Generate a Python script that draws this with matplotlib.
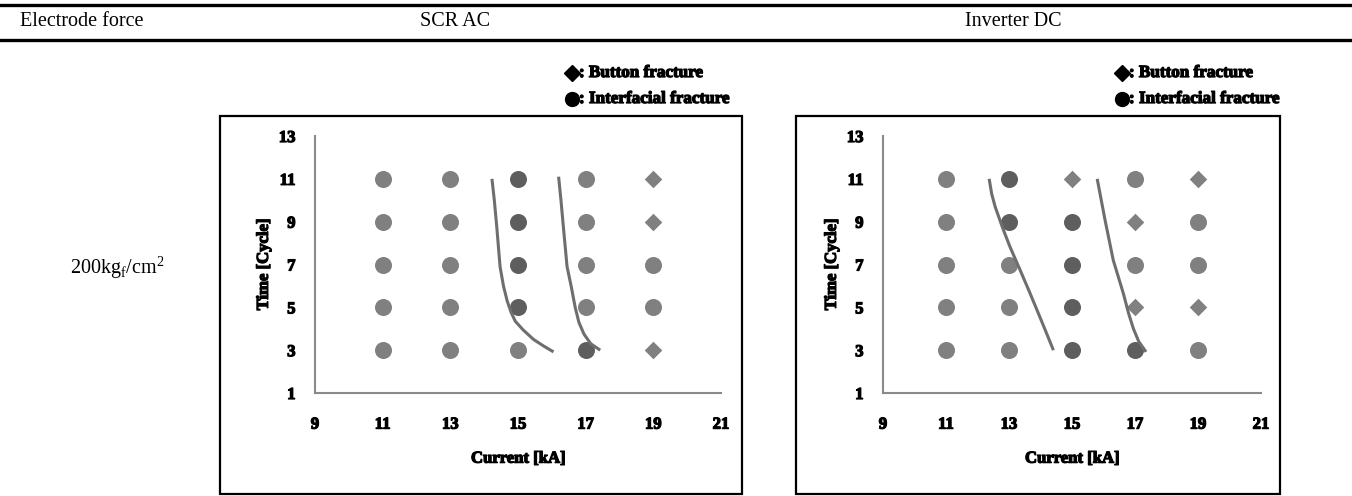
import matplotlib
matplotlib.use("Agg")
import matplotlib.pyplot as plt
from matplotlib.lines import Line2D
from matplotlib.patches import Rectangle
import matplotlib.patheffects as pe

plt.rcParams['mathtext.fontset'] = 'custom'
plt.rcParams['mathtext.rm'] = 'Liberation Serif'

# grid of test points
xs = [11, 13, 15, 17, 19]
ys = [3, 5, 7, 9, 11]

# fracture type per point, rows = time (3..11), cols = current (11..19)
# L = interfacial (light), D = interfacial (dark), B = button (diamond)
scr_types = [
    ['L', 'L', 'L', 'D', 'B'],   # 3
    ['L', 'L', 'D', 'L', 'L'],   # 5
    ['L', 'L', 'D', 'L', 'L'],   # 7
    ['L', 'L', 'D', 'L', 'B'],   # 9
    ['L', 'L', 'D', 'L', 'B'],   # 11
]
inv_types = [
    ['L', 'L', 'D', 'D', 'L'],   # 3
    ['L', 'L', 'D', 'B', 'B'],   # 5
    ['L', 'L', 'D', 'L', 'L'],   # 7
    ['L', 'D', 'D', 'B', 'L'],   # 9
    ['L', 'D', 'B', 'L', 'B'],   # 11
]

# hand drawn boundary curves
scr_c1_x = [14.23, 14.3, 14.37, 14.47, 14.57, 14.68, 14.8, 14.92, 15.15, 15.46, 15.75, 16.05]
scr_c1_y = [11.0, 10.0, 8.8, 6.9, 6.0, 5.3, 4.75, 4.35, 3.95, 3.5, 3.2, 2.92]
scr_c2_x = [16.2, 16.27, 16.35, 16.45, 16.57, 16.69, 16.8, 16.95, 17.15, 17.43]
scr_c2_y = [11.1, 10.0, 8.6, 6.9, 6.0, 5.0, 4.3, 3.75, 3.3, 3.0]
inv_c1_x = [12.37, 12.45, 12.56, 12.8, 13.03, 13.35, 13.67, 14.05, 14.41]
inv_c1_y = [11.0, 10.3, 9.7, 8.7, 7.83, 6.75, 5.65, 4.3, 3.0]
inv_c2_x = [15.8, 16.05, 16.31, 16.63, 16.8, 16.95, 17.12, 17.35]
inv_c2_y = [11.0, 9.07, 7.2, 5.65, 4.7, 4.0, 3.4, 2.92]

W, H = 1352, 496
fig = plt.figure(figsize=(W / 100, H / 100), dpi=100)

serif = ['Liberation Serif', 'DejaVu Serif']
light = '#808080'
dark = '#5e5e5e'
linec = '#6e6e6e'
heavy = [pe.withStroke(linewidth=0.9, foreground='black')]


def fx(px):
    return px / W


def fy(py):
    return 1 - py / H


# table rules and header
fig.add_artist(Line2D([0, 1], [fy(5), fy(5)], color='black', lw=2.4))
fig.add_artist(Line2D([0, 1], [fy(40), fy(40)], color='black', lw=2.4))
fig.text(fx(20), fy(22), 'Electrode force', family=serif, fontsize=14.5, va='center')
fig.text(fx(455), fy(22), 'SCR AC', family=serif, fontsize=14.5, va='center', ha='center')
fig.text(fx(1013), fy(22), 'Inverter DC', family=serif, fontsize=14.5, va='center', ha='center')
fig.text(fx(70), fy(268), r'200kg$_\mathrm{f}$/cm$^2$', family=serif, fontsize=14.5, va='center')


def panel(ax_px, box_px, leg_x, types, curves):
    x0, y0, x1, y1 = box_px
    fig.add_artist(Rectangle((fx(x0), fy(y1)), fx(x1 - x0), (y1 - y0) / H,
                             fill=False, ec='black', lw=1.6))
    # legend symbols and text
    fig.add_artist(Line2D([fx(leg_x + 7)], [fy(73)], marker='D', ms=8, color='black', lw=0))
    fig.add_artist(Line2D([fx(leg_x + 7)], [fy(99)], marker='o', ms=10, color='black', lw=0))
    fig.text(fx(leg_x + 14), fy(73), ': Button fracture', family=serif,
             fontsize=12.3, fontweight='bold', va='center', path_effects=heavy)
    fig.text(fx(leg_x + 14), fy(99), ': Interfacial fracture', family=serif,
             fontsize=12.3, fontweight='bold', va='center', path_effects=heavy)

    a0, b0, a1, b1 = ax_px
    ax = fig.add_axes([fx(a0), fy(b1), fx(a1 - a0), (b1 - b0) / H])
    for i, yv in enumerate(ys):
        for j, xv in enumerate(xs):
            t = types[i][j]
            if t == 'B':
                ax.scatter(xv, yv, marker='D', s=80, color=light, lw=0, zorder=3)
            else:
                ax.scatter(xv, yv, marker='o', s=150, color=light if t == 'L' else dark, lw=0, zorder=3)
    for cx, cy in curves:
        ax.plot(cx, cy, color=linec, lw=2.2, zorder=4, solid_capstyle='butt')

    ax.set_xlim(9, 21)
    ax.set_ylim(1, 13)
    ax.set_xticks(range(9, 22, 2))
    ax.set_yticks(range(1, 14, 2))
    ax.spines['top'].set_visible(False)
    ax.spines['right'].set_visible(False)
    ax.spines['left'].set_color('#8a8a8a')
    ax.spines['bottom'].set_color('#8a8a8a')
    ax.spines['left'].set_linewidth(1.5)
    ax.spines['bottom'].set_linewidth(1.5)
    ax.tick_params(axis='x', length=0, pad=17)
    ax.tick_params(axis='y', length=0, pad=14)
    for lab in ax.get_xticklabels() + ax.get_yticklabels():
        lab.set_family(serif)
        lab.set_fontweight('bold')
        lab.set_fontsize(12)
        lab.set_path_effects(heavy)
    ax.set_xlabel('Current [kA]', family=serif, fontweight='bold', fontsize=12, labelpad=13,
                  path_effects=heavy)
    ax.set_ylabel('Time [Cycle]', family=serif, fontweight='bold', fontsize=12, labelpad=5,
                  path_effects=heavy)
    ax.patch.set_alpha(0)
    return ax


panel((315, 136, 721, 393), (220, 116, 742, 494), 565, scr_types,
      [(scr_c1_x, scr_c1_y), (scr_c2_x, scr_c2_y)])
panel((883, 136, 1261, 393), (796, 116, 1280, 494), 1115, inv_types,
      [(inv_c1_x, inv_c1_y), (inv_c2_x, inv_c2_y)])

fig.savefig('out.png', dpi=100)
